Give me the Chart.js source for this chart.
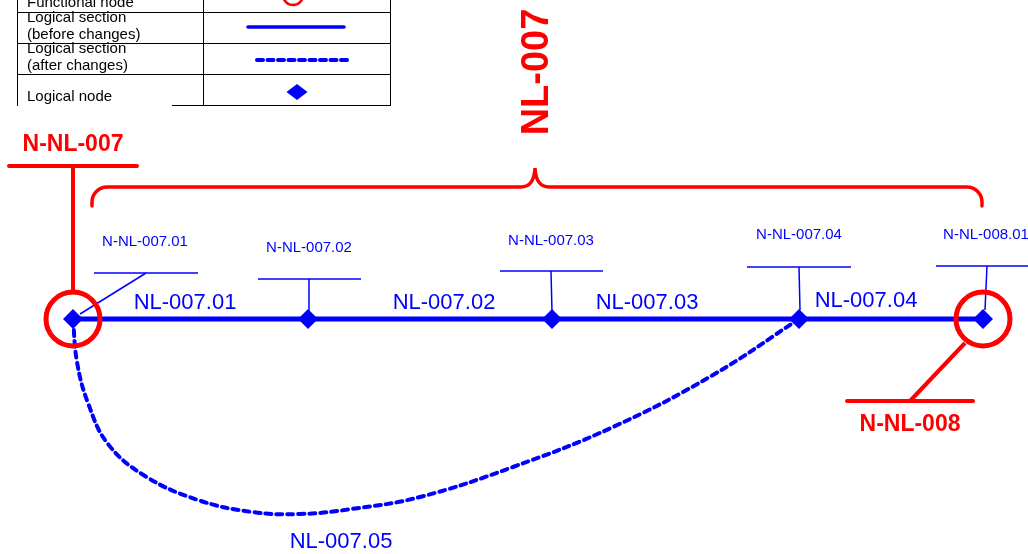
<!DOCTYPE html>
<html>
<head>
<meta charset="utf-8">
<script src="https://cdn.jsdelivr.net/npm/chart.js@4.4.1/dist/chart.umd.min.js"></script>
<style>
  html, body { margin: 0; padding: 0; background: #fff; }
  #wrap { width: 1028px; height: 554px; }
</style>
</head>
<body>
<div id="wrap"><canvas id="diagram"></canvas></div>
<script>
const BLUE = "#0000ff";
const RED = "#ff0000";
const FONT = '"Liberation Sans", Arial, sans-serif';

// Logical nodes on the section line (diagram units, y grows downwards)
const nodeNames = ["N-NL-007.01", "N-NL-007.02", "N-NL-007.03", "N-NL-007.04", "N-NL-008.01"];
const nodeX = [73, 308, 552, 799, 983];
const lineY = 319;

// Node name callouts
const nodeLabelX = [145, 309, 551, 799, 986];
const nodeLabelY = [246, 252, 245, 239, 239];
const calloutY = [273, 279, 271, 267, 266];
const calloutX0 = [94, 258, 500, 747, 936];
const calloutX1 = [198, 361, 603, 851, 1028];
const calloutAnchorX = [146, 309, 551, 799, 987];
const calloutEndX = [80, 309, 552, 800, 985];
const calloutEndY = [314, 312, 312, 310, 310];

// Logical sections (before changes)
const sectionNames = ["NL-007.01", "NL-007.02", "NL-007.03", "NL-007.04"];
const sectionLabelX = [185, 444, 647, 866];
const sectionLabelY = [309, 309, 309, 307];

// Logical section after changes: NL-007.05
const newSectionName = "NL-007.05";
const newSectionX = [73, 77, 88, 108, 145, 198, 252, 300, 352, 420, 513, 613, 713, 799];
const newSectionY = [319, 362, 403, 444, 476, 500, 512, 514, 509, 497, 467, 427, 375, 319];
const newSectionLabel = [341, 548];

// Functional nodes
const funcNames = ["N-NL-007", "N-NL-008"];
const funcX = [73, 983];
const funcLabelX = [73, 910];
const funcLabelY = [151, 431];
const funcBarY = [166, 401];
const funcBarX0 = [9, 847];
const funcBarX1 = [137, 973];
const funcStemTop = [[73, 166], [910, 401]];
const funcStemBottom = [[73, 291], [965, 343]];

// Logical line brace
const lineName = "NL-007";
const braceX = [92, 535, 982];
const braceY = [187, 168, 206];

// Legend table
const legendRows = [["Functional node"], ["Logical section", "(before changes)"], ["Logical section", "(after changes)"], ["Logical node"]];
const legendTextY = [[7], [22, 39], [53, 70], [101]];
const legendRowLines = [12.5, 43.5, 74.5];

const seg = (a, b) => [{ x: a[0], y: a[1] }, { x: b[0], y: b[1] }];

const datasets = [];

// functional node circles
datasets.push({
  data: funcX.map((x) => ({ x, y: lineY })),
  showLine: false,
  pointStyle: "circle",
  pointRadius: 27,
  pointBorderWidth: 5,
  pointBorderColor: RED,
  pointBackgroundColor: "rgba(0,0,0,0)",
});

// logical node diamonds
datasets.push({
  data: nodeX.map((x) => ({ x, y: lineY })),
  showLine: false,
  pointStyle: "rectRot",
  pointRadius: 10,
  pointBorderWidth: 0,
  pointBackgroundColor: BLUE,
});

// callouts of node names
nodeNames.forEach((n, i) => {
  datasets.push({
    data: seg([calloutX0[i], calloutY[i]], [calloutX1[i], calloutY[i]]),
    showLine: true, borderColor: BLUE, borderWidth: 1.5, pointRadius: 0,
  });
  datasets.push({
    data: seg([calloutAnchorX[i], calloutY[i]], [calloutEndX[i], calloutEndY[i]]),
    showLine: true, borderColor: BLUE, borderWidth: 1.5, pointRadius: 0,
  });
});

// section line before changes
datasets.push({
  data: nodeX.map((x) => ({ x, y: lineY })),
  showLine: true, borderColor: BLUE, borderWidth: 5, pointRadius: 0,
});

// section after changes
datasets.push({
  data: newSectionX.map((x, i) => ({ x, y: newSectionY[i] })),
  showLine: true, borderColor: BLUE, borderWidth: 4, borderDash: [6, 5],
  borderCapStyle: "round", tension: 0.4, pointRadius: 0,
});

// functional node bars and stems
funcNames.forEach((n, i) => {
  datasets.push({
    data: seg([funcBarX0[i], funcBarY[i]], [funcBarX1[i], funcBarY[i]]),
    showLine: true, borderColor: RED, borderWidth: 4, borderCapStyle: "round", pointRadius: 0,
  });
  datasets.push({
    data: seg(funcStemTop[i], funcStemBottom[i]),
    showLine: true, borderColor: RED, borderWidth: 4, pointRadius: 0,
  });
});

datasets.forEach((d) => { d.clip = false; });

const annotations = {
  id: "annotations",
  afterDraw(chart) {
    const { ctx, scales } = chart;
    const px = (v) => scales.x.getPixelForValue(v);
    const py = (v) => scales.y.getPixelForValue(v);
    ctx.save();

    // brace of the logical line
    ctx.strokeStyle = RED;
    ctx.lineWidth = 3.5;
    ctx.lineCap = "round";
    ctx.beginPath();
    const r = 15;
    ctx.moveTo(px(braceX[0]), py(braceY[2]));
    ctx.arcTo(px(braceX[0]), py(braceY[0]), px(braceX[0] + r), py(braceY[0]), r);
    ctx.lineTo(px(braceX[1] - 14), py(braceY[0]));
    ctx.quadraticCurveTo(px(braceX[1] - 1), py(braceY[0]), px(braceX[1]), py(braceY[1]));
    ctx.quadraticCurveTo(px(braceX[1] + 1), py(braceY[0]), px(braceX[1] + 14), py(braceY[0]));
    ctx.lineTo(px(braceX[2] - r), py(braceY[0]));
    ctx.arcTo(px(braceX[2]), py(braceY[0]), px(braceX[2]), py(braceY[2]), r);
    ctx.lineTo(px(braceX[2]), py(braceY[2]));
    ctx.stroke();

    // logical line name, vertical
    ctx.save();
    ctx.translate(px(548), py(72));
    ctx.rotate(-Math.PI / 2);
    ctx.fillStyle = RED;
    ctx.font = "bold 38px " + FONT;
    ctx.textAlign = "center";
    ctx.textBaseline = "alphabetic";
    ctx.fillText(lineName, 0, 0);
    ctx.restore();

    ctx.textAlign = "center";
    ctx.textBaseline = "alphabetic";

    // functional node names
    ctx.fillStyle = RED;
    ctx.font = "bold 23px " + FONT;
    funcNames.forEach((n, i) => ctx.fillText(n, px(funcLabelX[i]), py(funcLabelY[i])));

    // logical node names
    ctx.fillStyle = BLUE;
    ctx.font = "15px " + FONT;
    nodeNames.forEach((n, i) => ctx.fillText(n, px(nodeLabelX[i]), py(nodeLabelY[i])));

    // section names
    ctx.font = "22px " + FONT;
    sectionNames.forEach((n, i) => ctx.fillText(n, px(sectionLabelX[i]), py(sectionLabelY[i])));
    ctx.fillText(newSectionName, px(newSectionLabel[0]), py(newSectionLabel[1]));

    // legend table
    ctx.strokeStyle = "#000";
    ctx.lineWidth = 1;
    ctx.lineCap = "butt";
    ctx.beginPath();
    legendRowLines.forEach((y) => {
      ctx.moveTo(px(17), py(y));
      ctx.lineTo(px(391), py(y));
    });
    ctx.moveTo(px(172), py(105.5));
    ctx.lineTo(px(391), py(105.5));
    ctx.moveTo(px(17.5), py(0));
    ctx.lineTo(px(17.5), py(106));
    ctx.moveTo(px(203.5), py(0));
    ctx.lineTo(px(203.5), py(106));
    ctx.moveTo(px(390.5), py(0));
    ctx.lineTo(px(390.5), py(106));
    ctx.stroke();

    ctx.fillStyle = "#000";
    ctx.font = "15px " + FONT;
    ctx.textAlign = "left";
    legendRows.forEach((lines, i) => {
      lines.forEach((t, j) => ctx.fillText(t, px(27), py(legendTextY[i][j])));
    });

    // legend symbols
    ctx.strokeStyle = RED;
    ctx.lineWidth = 2.5;
    ctx.beginPath();
    ctx.arc(px(293), py(-5), 10, 0, Math.PI * 2);
    ctx.stroke();

    ctx.strokeStyle = BLUE;
    ctx.lineWidth = 3.5;
    ctx.lineCap = "round";
    ctx.beginPath();
    ctx.moveTo(px(248), py(27));
    ctx.lineTo(px(344), py(27));
    ctx.stroke();

    ctx.setLineDash([6, 4.5]);
    ctx.lineWidth = 4;
    ctx.beginPath();
    ctx.moveTo(px(257), py(60));
    ctx.lineTo(px(347), py(60));
    ctx.stroke();
    ctx.setLineDash([]);

    ctx.fillStyle = BLUE;
    ctx.beginPath();
    ctx.moveTo(px(286.5), py(92));
    ctx.lineTo(px(297), py(84));
    ctx.lineTo(px(307.5), py(92));
    ctx.lineTo(px(297), py(100));
    ctx.closePath();
    ctx.fill();

    ctx.restore();
  },
};

new Chart(document.getElementById("diagram"), {
  type: "scatter",
  data: { datasets },
  options: {
    responsive: true,
    maintainAspectRatio: false,
    animation: false,
    layout: { padding: 0, autoPadding: false },
    scales: {
      x: { type: "linear", min: 0, max: 1028, display: false },
      y: { type: "linear", min: 0, max: 554, reverse: true, display: false },
    },
    plugins: { legend: { display: false }, tooltip: { enabled: false } },
  },
  plugins: [annotations],
});
</script>
</body>
</html>
